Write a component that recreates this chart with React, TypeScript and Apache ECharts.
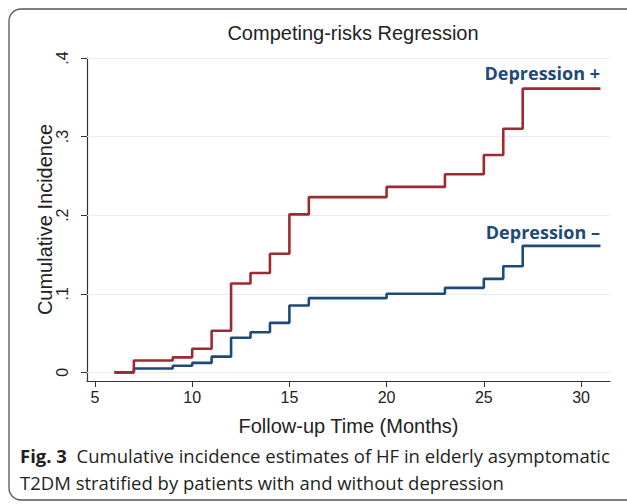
import React, { useEffect, useRef } from "react";
import * as echarts from "echarts";

const depPlusTimes = [6, 7, 9, 10, 11, 12, 13, 14, 15, 16, 20, 23, 25, 26, 27, 31];
const depPlusValues = [0, 0.015, 0.019, 0.03, 0.053, 0.113, 0.1265, 0.151, 0.201, 0.223, 0.236, 0.252, 0.2765, 0.31, 0.361, 0.361];
const depMinusTimes = [6, 7, 9, 10, 11, 12, 13, 14, 15, 16, 20, 23, 25, 26, 27, 31];
const depMinusValues = [0, 0.005, 0.0085, 0.012, 0.02, 0.044, 0.051, 0.063, 0.085, 0.0945, 0.1, 0.1075, 0.119, 0.135, 0.161, 0.161];
const xTicks = [5, 10, 15, 20, 25, 30];
const yTicks = [0, 0.1, 0.2, 0.3, 0.4];
const yTickLabels = ["0", ".1", ".2", ".3", ".4"];

const RED = "#9e2a30";
const BLUE = "#1e4a78";

export default function App() {
  const ref = useRef<HTMLDivElement>(null);
  useEffect(() => {
    if (!ref.current) return;
    const chart = echarts.init(ref.current, null, { renderer: "svg" });
    const plus = depPlusTimes.map((t, i) => [t, depPlusValues[i]]);
    const minus = depMinusTimes.map((t, i) => [t, depMinusValues[i]]);
    chart.setOption({
      animation: false,
      backgroundColor: "#ffffff",
      title: {
        text: "Competing-risks Regression",
        left: 348,
        top: 18,
        textAlign: "center",
        textStyle: { fontFamily: "Liberation Sans", fontSize: 20, fontWeight: "normal", color: "#222" },
      },
      grid: { left: 87, top: 58, width: 523, height: 323 },
      xAxis: {
        type: "value",
        min: 4.59,
        max: 31.49,
        name: "Follow-up Time (Months)",
        nameLocation: "middle",
        nameGap: 35,
        nameMoveOverlap: false,
        nameTextStyle: { fontFamily: "Liberation Sans", fontSize: 20, color: "#222" },
        axisLine: { show: true, onZero: false, lineStyle: { color: "#333", width: 1.2 } },
        axisTick: { show: true, customValues: xTicks, length: 6, lineStyle: { color: "#333" } },
        axisLabel: { customValues: xTicks, fontFamily: "Liberation Sans", fontSize: 16, color: "#222", margin: 8 },
        splitLine: { show: false },
      },
      yAxis: {
        type: "value",
        min: -0.011,
        max: 0.4,
        name: "Cumulative Incidence",
        nameLocation: "middle",
        nameGap: 32,
        nameMoveOverlap: false,
        nameTextStyle: { fontFamily: "Liberation Sans", fontSize: 20, color: "#222" },
        axisLine: { show: true, onZero: false, lineStyle: { color: "#333", width: 1.2 } },
        axisTick: { show: true, customValues: yTicks, length: 6, lineStyle: { color: "#333" } },
        axisLabel: {
          customValues: yTicks,
          rotate: 90,
          formatter: (v: number) => yTickLabels[yTicks.findIndex((t) => Math.abs(t - v) < 1e-6)] ?? "",
          fontFamily: "Liberation Sans",
          fontSize: 16,
          color: "#222",
          margin: 17,
        },
        splitLine: { show: false },
      },
      series: [
        {
          type: "line",
          name: "Depression –",
          step: "end",
          data: minus,
          showSymbol: false,
          lineStyle: { color: BLUE, width: 2.6 },
          z: 3,
          markLine: {
            silent: true,
            symbol: ["none", "none"],
            label: { show: false },
            lineStyle: { color: "#e3eef3", width: 1.2, type: "solid" },
            data: yTicks.map((v) => ({ yAxis: v })),
            z: 1,
          },
        },
        {
          type: "line",
          name: "Depression +",
          step: "end",
          data: plus,
          showSymbol: false,
          lineStyle: { color: RED, width: 2.6 },
          z: 4,
        },
      ],
      graphic: [
        {
          type: "rect",
          shape: { x: 9, y: 9, width: 660, height: 491, r: 12 },
          style: { fill: "none", stroke: "#555", lineWidth: 1.3 },
          silent: true,
          z: 0,
        },
        {
          type: "text",
          x: 600,
          y: 73,
          style: {
            text: "Depression +",
            fill: BLUE,
            font: "bold 18px 'Open Sans'",
            textAlign: "right",
            textVerticalAlign: "middle",
          },
        },
        {
          type: "text",
          x: 600,
          y: 232,
          style: {
            text: "Depression –",
            fill: BLUE,
            font: "bold 18px 'Open Sans'",
            textAlign: "right",
            textVerticalAlign: "middle",
          },
        },
        {
          type: "text",
          x: 20,
          y: 442,
          style: {
            text: "{b|Fig. 3}  Cumulative incidence estimates of HF in elderly asymptomatic\nT2DM stratified by patients with and without depression",
            fill: "#231f20",
            font: "18.5px 'Open Sans'",
            lineHeight: 27,
            rich: {
              b: { fontWeight: "bold", fontFamily: "Open Sans", fontSize: 18.5, fill: "#231f20" },
            },
          },
        },
      ],
    });
    return () => chart.dispose();
  }, []);
  return <div ref={ref} style={{ position: "absolute", left: 0, top: 0, width: 627, height: 504 }} />;
}
